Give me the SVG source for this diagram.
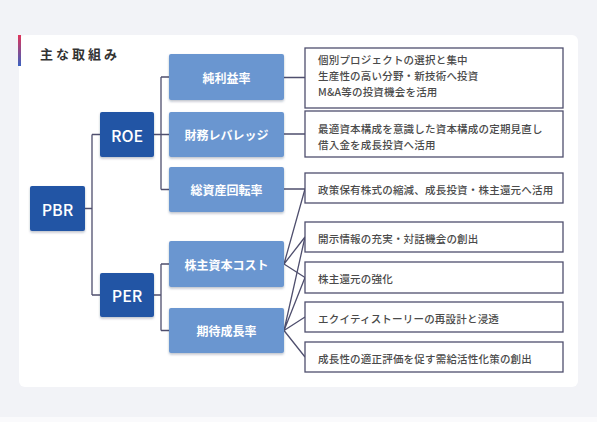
<svg xmlns="http://www.w3.org/2000/svg" width="597" height="422" viewBox="0 0 597 422">
<defs>
<linearGradient id="acc" x1="0" y1="0" x2="0" y2="1">
<stop offset="0" stop-color="#e0345a"/>
<stop offset="1" stop-color="#3a62c0"/>
</linearGradient>
<filter id="sh" x="-10%" y="-10%" width="120%" height="130%">
<feDropShadow dx="0" dy="1.5" stdDeviation="1.2" flood-color="#1a2a50" flood-opacity="0.3"/>
</filter>
<style>
text{font-family:"Noto Sans CJK JP","Noto Sans",sans-serif}
.dk{fill:#2354a5}
.md{fill:#6b96d0}
.rb{fill:#fff;stroke:#4f4f6e;stroke-width:1.3}
.tw{fill:#fff;text-anchor:middle;dominant-baseline:central}
.tl{font-size:16px;font-weight:500}
.tm{font-size:12px;font-weight:700}
.tr{fill:#4a4a4a;font-size:10.5px;font-weight:500;letter-spacing:0.2px;dominant-baseline:central}
.cn{fill:none;stroke:#4f4f6e;stroke-width:1.3}
</style>
</defs>
<rect x="0" y="0" width="597" height="422" fill="#f2f3f7"/>
<rect x="0" y="417" width="597" height="5" fill="#fafafc"/>
<rect x="19" y="35" width="559" height="352" rx="6" fill="#ffffff"/>
<rect x="18" y="35" width="3" height="31" fill="url(#acc)"/>
<text x="40" y="53" font-size="13" font-weight="700" fill="#333" letter-spacing="3" dominant-baseline="central">主な取組み</text>

<g id="connectors">
<path class="cn" d="M85,208.5H92M92,134.5V295M92,134.5H100M92,295H100"/>
<path class="cn" d="M154,134.5H161M161,77V189.5M161,77H169M161,134.5H169M161,189.5H169"/>
<path class="cn" d="M154,295H161M161,264V330.5M161,264H169M161,330.5H169"/>
<path class="cn" d="M284,77.5H305M284,134H305M284,189H305"/>
<path class="cn" d="M284,264L305,189M284,264L305,237M284,264L305,277.5"/>
<path class="cn" d="M284,330.5L305,237M284,330.5L305,277.5M284,330.5L305,317M284,330.5L305,357"/>
</g>

<g id="pbr"><rect class="dk" x="30" y="186" width="55" height="45" rx="2" filter="url(#sh)"/><text class="tw tl" x="57.5" y="208.5">PBR</text></g>
<g id="roe"><rect class="dk" x="100" y="112" width="54" height="45" rx="2" filter="url(#sh)"/><text class="tw tl" x="127" y="134.5">ROE</text></g>
<g id="per"><rect class="dk" x="100" y="273" width="54" height="44" rx="2" filter="url(#sh)"/><text class="tw tl" x="127" y="295">PER</text></g>

<g id="m1"><rect class="md" x="169" y="54" width="115" height="46" rx="2" filter="url(#sh)"/><text class="tw tm" x="226.5" y="77">純利益率</text></g>
<g id="m2"><rect class="md" x="169" y="112" width="115" height="45" rx="2" filter="url(#sh)"/><text class="tw tm" x="226.5" y="134.5">財務レバレッジ</text></g>
<g id="m3"><rect class="md" x="169" y="167" width="115" height="45" rx="2" filter="url(#sh)"/><text class="tw tm" x="226.5" y="189.5">総資産回転率</text></g>
<g id="m4"><rect class="md" x="169" y="241" width="115" height="46" rx="2" filter="url(#sh)"/><text class="tw tm" x="226.5" y="264">株主資本コスト</text></g>
<g id="m5"><rect class="md" x="169" y="308" width="115" height="45" rx="2" filter="url(#sh)"/><text class="tw tm" x="226.5" y="330.5">期待成長率</text></g>

<g id="r1"><rect class="rb" x="305" y="48" width="258" height="60"/>
<text class="tr" x="318" y="59">個別プロジェクトの選択と集中</text>
<text class="tr" x="318" y="75">生産性の高い分野・新技術へ投資</text>
<text class="tr" x="318" y="91">M&amp;A等の投資機会を活用</text></g>
<g id="r2"><rect class="rb" x="305" y="111" width="258" height="46"/>
<text class="tr" x="318" y="128">最適資本構成を意識した資本構成の定期見直し</text>
<text class="tr" x="318" y="144">借入金を成長投資へ活用</text></g>
<g id="r3"><rect class="rb" x="305" y="173" width="258" height="30"/><text class="tr" x="318" y="189">政策保有株式の縮減、成長投資・株主還元へ活用</text></g>
<g id="r4"><rect class="rb" x="305" y="222" width="258" height="30"/><text class="tr" x="318" y="238.5">開示情報の充実・対話機会の創出</text></g>
<g id="r5"><rect class="rb" x="305" y="262" width="258" height="31"/><text class="tr" x="318" y="278">株主還元の強化</text></g>
<g id="r6"><rect class="rb" x="305" y="302" width="258" height="30"/><text class="tr" x="318" y="318.5">エクイティストーリーの再設計と浸透</text></g>
<g id="r7"><rect class="rb" x="305" y="342" width="258" height="30"/><text class="tr" x="318" y="358.5">成長性の適正評価を促す需給活性化策の創出</text></g>
</svg>
